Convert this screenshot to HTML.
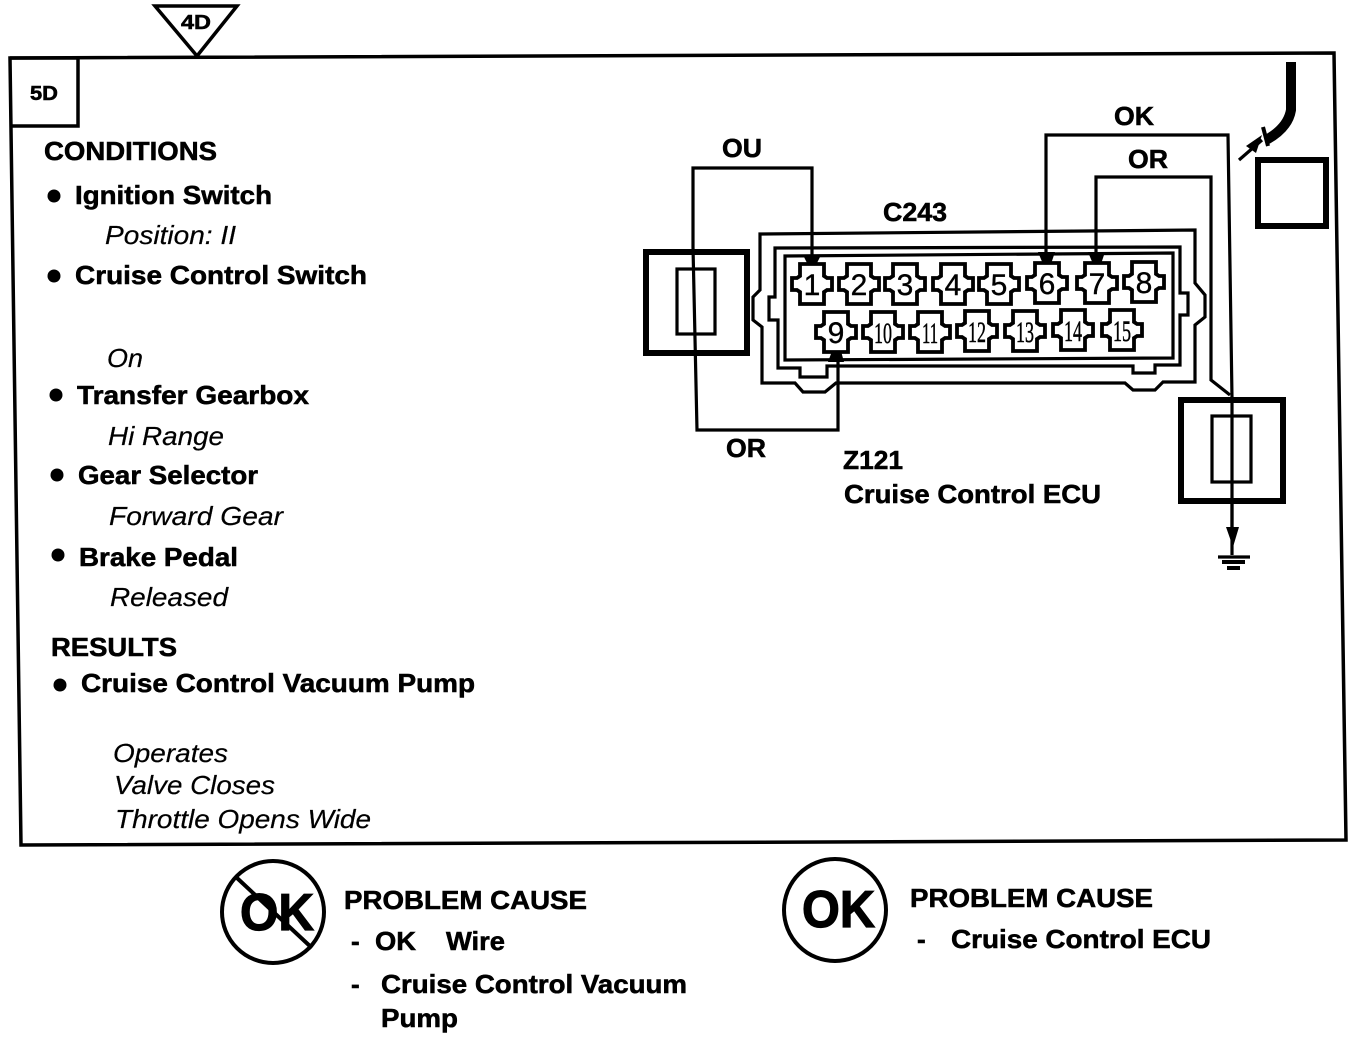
<!DOCTYPE html>
<html>
<head>
<meta charset="utf-8">
<style>
html,body{margin:0;padding:0;background:#fff}
svg{display:block}
text{font-family:"Liberation Sans",sans-serif;fill:#000}
.b{font-weight:bold;font-size:26px;stroke:#000;stroke-width:.55}
.i{font-style:italic;font-size:26px;stroke:#000;stroke-width:.2}
.n{font-size:30px;text-anchor:middle;stroke:#000;stroke-width:.4}
.s{font-family:"Liberation Serif",serif;font-size:30px;text-anchor:middle;stroke:#000;stroke-width:.5}
.w{fill:none;stroke:#000;stroke-width:3.2}
.t{fill:none;stroke:#000;stroke-width:6}
</style>
</head>
<body>
<svg width="1360" height="1040" viewBox="0 0 1360 1040" xmlns="http://www.w3.org/2000/svg">
<defs>
<path id="p" d="M-12,-20 H12 V-8 L15,-6 H20 V6 H15 L12,8 V20 H-12 V8 L-15,6 H-20 V-6 H-15 L-12,-8 Z" fill="#fff" stroke="#000" stroke-width="3.8"/>
</defs>

<!-- Frame -->
<path class="w" d="M10,58 L1334,53 L1346,840 L21,845 Z" style="stroke-width:3.5"/>
<path class="w" d="M10,58 H78 V126 H12" style="stroke-width:3.5"/>
<path class="w" d="M155,6 H237 L197,56 Z" style="stroke-width:3.5;fill:#fff"/>
<text class="b" x="181" y="29" textLength="30" lengthAdjust="spacingAndGlyphs" style="font-size:20px">4D</text>
<text class="b" x="30" y="100" textLength="28" lengthAdjust="spacingAndGlyphs" style="font-size:20px">5D</text>

<!-- Left text -->
<text class="b" x="44" y="160" textLength="173" lengthAdjust="spacingAndGlyphs">CONDITIONS</text>
<text class="b" x="75" y="204" textLength="197" lengthAdjust="spacingAndGlyphs">Ignition Switch</text>
<text class="i" x="105" y="244" textLength="131" lengthAdjust="spacingAndGlyphs">Position: II</text>
<text class="b" x="75" y="284" textLength="292" lengthAdjust="spacingAndGlyphs">Cruise Control Switch</text>
<text class="i" x="107" y="367" textLength="36" lengthAdjust="spacingAndGlyphs">On</text>
<text class="b" x="77" y="404" textLength="232" lengthAdjust="spacingAndGlyphs">Transfer Gearbox</text>
<text class="i" x="108" y="445" textLength="116" lengthAdjust="spacingAndGlyphs">Hi Range</text>
<text class="b" x="78" y="484" textLength="180" lengthAdjust="spacingAndGlyphs">Gear Selector</text>
<text class="i" x="109" y="525" textLength="174" lengthAdjust="spacingAndGlyphs">Forward Gear</text>
<text class="b" x="79" y="566" textLength="159" lengthAdjust="spacingAndGlyphs">Brake Pedal</text>
<text class="i" x="110" y="606" textLength="118" lengthAdjust="spacingAndGlyphs">Released</text>
<text class="b" x="51" y="656" textLength="126" lengthAdjust="spacingAndGlyphs">RESULTS</text>
<text class="b" x="81" y="692" textLength="394" lengthAdjust="spacingAndGlyphs">Cruise Control Vacuum Pump</text>
<text class="i" x="113" y="762" textLength="115" lengthAdjust="spacingAndGlyphs">Operates</text>
<text class="i" x="114" y="794" textLength="161" lengthAdjust="spacingAndGlyphs">Valve Closes</text>
<text class="i" x="115" y="828" textLength="256" lengthAdjust="spacingAndGlyphs">Throttle Opens Wide</text>
<circle cx="54" cy="196" r="6.5"/>
<circle cx="54" cy="276" r="6.5"/>
<circle cx="56" cy="395" r="6.5"/>
<circle cx="57" cy="475" r="6.5"/>
<circle cx="58" cy="555" r="6.5"/>
<circle cx="60" cy="685" r="6.5"/>

<!-- Connector outlines -->
<path class="w" d="M760,234 L1195,230 V283 L1205,295 V317 L1195,325 V382 H1163 L1155,390 H1133 L1125,383 H836 L825,392 H803 L795,383 H762 V327 L753,320 V297 L760,290 Z"/>
<path class="w" d="M775,248 L1180,247 V293 H1188 V315 H1180 V365 H1155 V373 H1133 V366 H827 V377 H800 V368 H778 V320 H769 V297 H775 Z"/>
<path class="w" d="M785,256 L1173,253 V358 L785,360 Z"/>

<!-- Wires -->
<path class="w" d="M812,263 V168 H693 V247 L697,430 H838 V357"/>
<path class="w" d="M1046,263 V135 H1228 L1232,398 V530"/>
<path class="w" d="M1096,262 V177 H1211 V380 L1230,395"/>

<!-- Pins -->
<use href="#p" x="812" y="284"/>
<use href="#p" x="859" y="284"/>
<use href="#p" x="905" y="284"/>
<use href="#p" x="953" y="284"/>
<use href="#p" x="999" y="284"/>
<use href="#p" x="1047" y="283"/>
<use href="#p" x="1097" y="283"/>
<use href="#p" x="1144" y="282"/>
<use href="#p" x="836" y="332"/>
<use href="#p" x="883" y="332"/>
<use href="#p" x="930" y="332"/>
<use href="#p" x="977" y="331"/>
<use href="#p" x="1025" y="331"/>
<use href="#p" x="1073" y="330"/>
<use href="#p" x="1122" y="330"/>
<path d="M803,255 H821 L816,265 H808 Z M828,362 H844 L841,351 H832 Z M1038,252 H1055 L1051,264 H1043 Z M1088,252 H1105 L1101,264 H1093 Z"/>
<text class="n" x="812" y="295">1</text>
<text class="n" x="859" y="295">2</text>
<text class="n" x="905" y="295">3</text>
<text class="n" x="953" y="295">4</text>
<text class="n" x="999" y="295">5</text>
<text class="n" x="1047" y="294">6</text>
<text class="n" x="1097" y="294">7</text>
<text class="n" x="1144" y="293">8</text>
<text class="n" x="836" y="343">9</text>
<text class="s" x="883" y="343" textLength="18" lengthAdjust="spacingAndGlyphs">10</text>
<text class="s" x="930" y="343" textLength="16" lengthAdjust="spacingAndGlyphs">11</text>
<text class="s" x="977" y="342" textLength="18" lengthAdjust="spacingAndGlyphs">12</text>
<text class="s" x="1025" y="342" textLength="18" lengthAdjust="spacingAndGlyphs">13</text>
<text class="s" x="1073" y="341" textLength="18" lengthAdjust="spacingAndGlyphs">14</text>
<text class="s" x="1122" y="341" textLength="18" lengthAdjust="spacingAndGlyphs">15</text>

<!-- Blocks -->
<rect class="t" x="646" y="252" width="101" height="101"/>
<rect class="w" x="677" y="269" width="38" height="65"/>
<rect class="t" x="1181" y="400" width="102" height="101"/>
<rect class="w" x="1212" y="416" width="39" height="66"/>
<path class="w" d="M1232,500 V555"/>
<path d="M1226,527 H1239 L1233,547 Z"/>
<path class="w" d="M1218,557 H1250"/>
<path d="M1222,560 H1245 V564 H1222 Z M1227,566 H1240 V570 H1227 Z"/>

<!-- Top right sensor -->
<path d="M1291,62 V110 Q1288,128 1266,140" fill="none" stroke="#000" stroke-width="10"/>
<path d="M1263,127 L1268,146" fill="none" stroke="#000" stroke-width="4"/>
<path d="M1239,160 L1262,140" class="w"/>
<path d="M1246,146 L1262,135 L1256,153 Z"/>
<rect class="t" x="1258" y="160" width="68" height="66"/>

<!-- Wire labels -->
<text class="b" x="722" y="157" textLength="40" lengthAdjust="spacingAndGlyphs">OU</text>
<text class="b" x="883" y="221" textLength="64" lengthAdjust="spacingAndGlyphs">C243</text>
<text class="b" x="1114" y="125" textLength="40" lengthAdjust="spacingAndGlyphs">OK</text>
<text class="b" x="1128" y="168" textLength="40" lengthAdjust="spacingAndGlyphs">OR</text>
<text class="b" x="726" y="457" textLength="40" lengthAdjust="spacingAndGlyphs">OR</text>
<text class="b" x="843" y="469" textLength="60" lengthAdjust="spacingAndGlyphs">Z121</text>
<text class="b" x="844" y="503" textLength="257" lengthAdjust="spacingAndGlyphs">Cruise Control ECU</text>

<!-- Bottom left -->
<circle cx="273" cy="912" r="51" fill="none" stroke="#000" stroke-width="4"/>
<path d="M237,878 L312,948" fill="none" stroke="#000" stroke-width="4"/>
<text class="b" x="240" y="930" textLength="74" lengthAdjust="spacingAndGlyphs" style="font-size:52px;stroke-width:1.2">OK</text>
<text class="b" x="344" y="909" textLength="243" lengthAdjust="spacingAndGlyphs">PROBLEM CAUSE</text>
<text class="b" x="351" y="950">-</text>
<text class="b" x="375" y="950" textLength="41" lengthAdjust="spacingAndGlyphs">OK</text>
<text class="b" x="446" y="950" textLength="59" lengthAdjust="spacingAndGlyphs">Wire</text>
<text class="b" x="351" y="993">-</text>
<text class="b" x="381" y="993" textLength="306" lengthAdjust="spacingAndGlyphs">Cruise Control Vacuum</text>
<text class="b" x="381" y="1027" textLength="77" lengthAdjust="spacingAndGlyphs">Pump</text>

<!-- Bottom right -->
<circle cx="835" cy="910" r="51" fill="none" stroke="#000" stroke-width="4"/>
<text class="b" x="802" y="927" textLength="73" lengthAdjust="spacingAndGlyphs" style="font-size:52px;stroke-width:1.2">OK</text>
<text class="b" x="910" y="907" textLength="243" lengthAdjust="spacingAndGlyphs">PROBLEM CAUSE</text>
<text class="b" x="917" y="948">-</text>
<text class="b" x="951" y="948" textLength="260" lengthAdjust="spacingAndGlyphs">Cruise Control ECU</text>
</svg>
</body>
</html>
